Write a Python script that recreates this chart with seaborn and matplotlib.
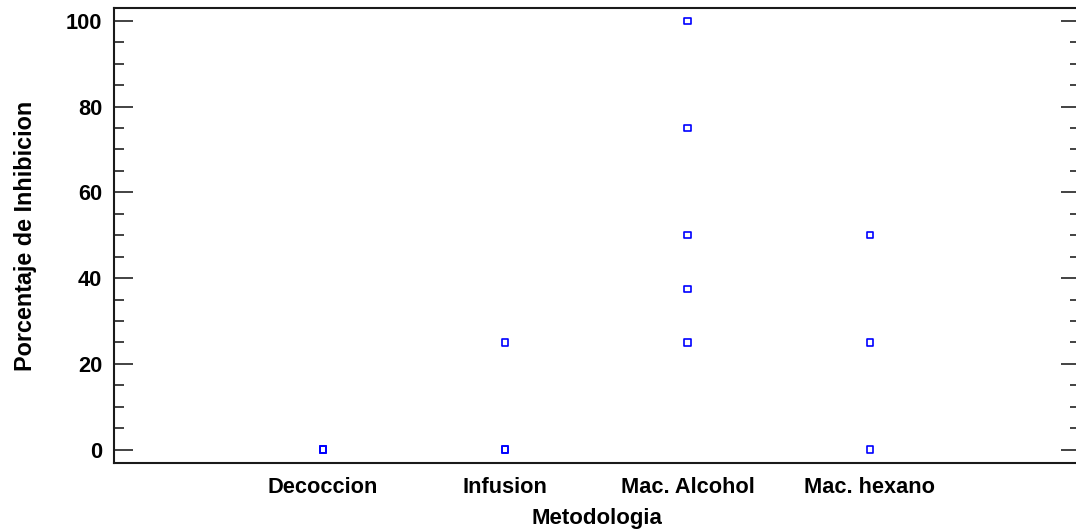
import matplotlib
matplotlib.use("Agg")
import matplotlib.pyplot as plt
from matplotlib.ticker import MultipleLocator
import seaborn as sns
import pandas as pd

# Observations per extraction method
categories = ["Decoccion", "Infusion", "Mac. Alcohol", "Mac. hexano"]
decoccion = [0, 0, 0]
infusion = [0, 25, 0]
mac_alcohol = [25, 37.5, 50, 75, 100]
mac_hexano = [0, 25, 50]

groups = [decoccion, infusion, mac_alcohol, mac_hexano]
df = pd.DataFrame({
    "Metodologia": [c for c, g in zip(categories, groups) for _ in g],
    "Inhibicion": [v for g in groups for v in g],
})
df["Metodologia"] = pd.Categorical(df["Metodologia"], categories=categories, ordered=True)

sns.set_theme(style="white")
plt.rcParams["font.family"] = ["Liberation Sans", "DejaVu Sans"]
plt.rcParams["font.weight"] = "bold"
plt.rcParams["text.color"] = "black"
plt.rcParams["axes.labelcolor"] = "black"
plt.rcParams["xtick.color"] = "black"
plt.rcParams["ytick.color"] = "black"

fig = plt.figure(figsize=(10.76, 5.31), dpi=100)
ax = fig.add_axes([0.1059, 0.1281, 0.8978, 0.8569])

sns.stripplot(data=df, x="Metodologia", y="Inhibicion", order=categories,
              jitter=False, marker="s", size=4.6, linewidth=1.2,
              facecolor="none", edgecolor="#0000ff", color="#0000ff", ax=ax)
for coll in ax.collections:
    coll.set_facecolor("none")
    coll.set_edgecolor("#0000ff")
    coll.set_linewidth(1.2)

ax.set_xlim(-1.146, 4.152)
ax.set_ylim(-3.1, 103)
ax.yaxis.set_major_locator(MultipleLocator(20))
ax.yaxis.set_minor_locator(MultipleLocator(5))

for s in ax.spines.values():
    s.set_color("#1a1a1a")
    s.set_linewidth(1.5)
    s.set_visible(True)

ax.tick_params(axis="y", which="major", direction="in", length=13.7, width=1.2,
               color="#222222", labelcolor="black", left=True, right=True,
               labelsize=15.7, pad=8.5)
ax.tick_params(axis="y", which="minor", direction="in", length=7.2, width=1.2,
               color="#222222", left=True, right=True)
ax.tick_params(axis="x", which="both", length=0, labelsize=15.7, pad=10,
               labelcolor="black")
for lbl in ax.get_xticklabels() + ax.get_yticklabels():
    lbl.set_fontweight("bold")

ax.set_xlabel("Metodologia", fontsize=16, fontweight="bold", labelpad=7, color="black")
ax.set_ylabel("Porcentaje de Inhibicion", fontsize=16.8, fontweight="bold",
              labelpad=21, color="black")

fig.savefig("out.png", dpi=100)
